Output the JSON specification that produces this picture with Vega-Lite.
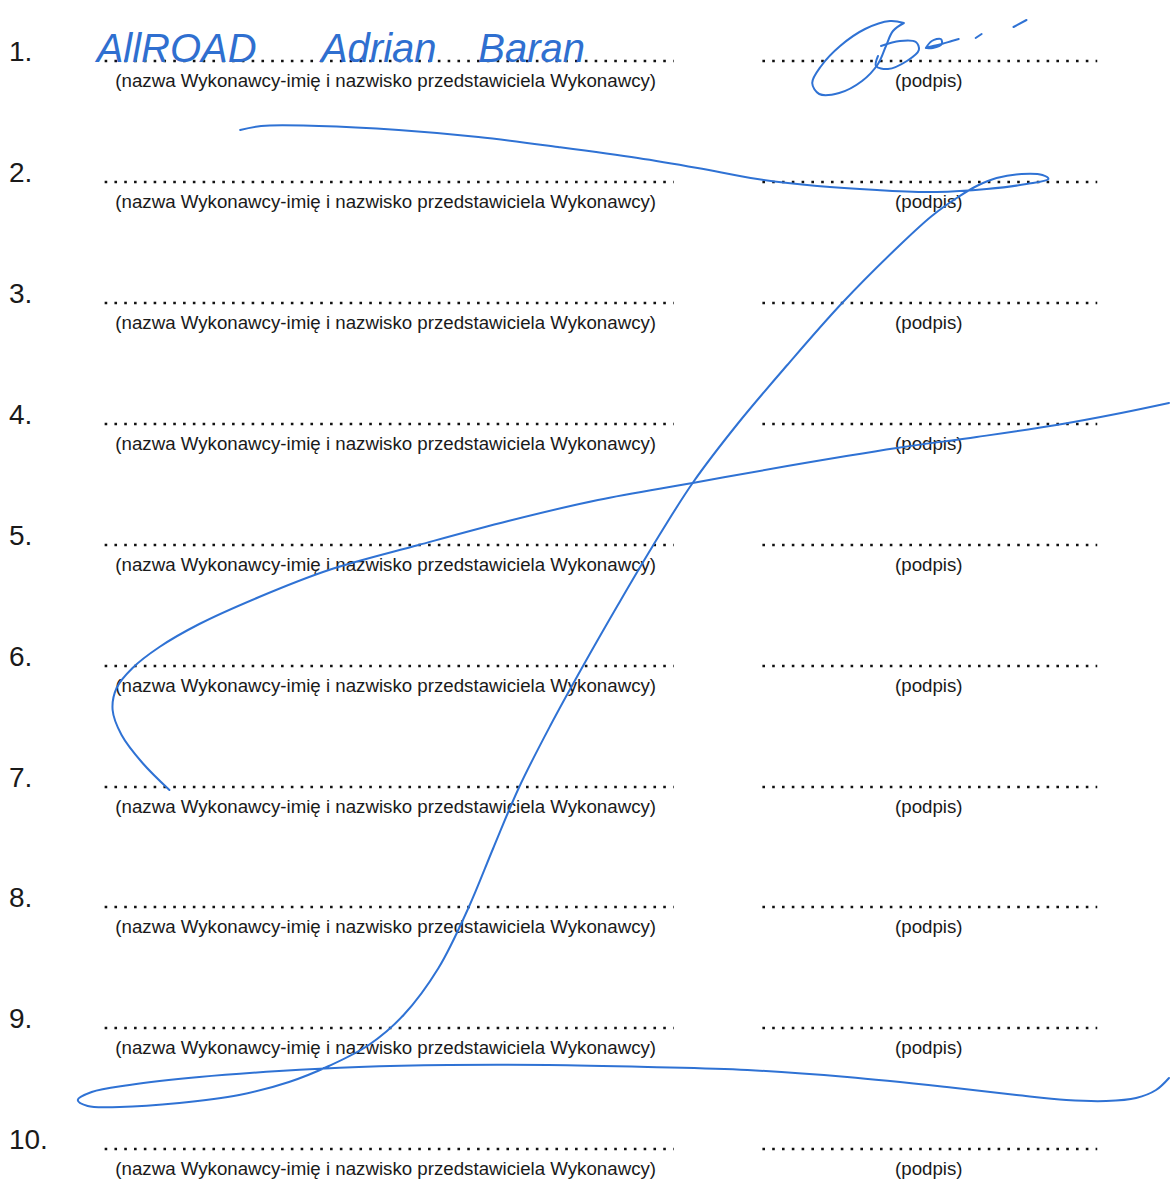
{
  "$schema": "https://vega.github.io/schema/vega-lite/v6.json",
  "autosize": {"type": "fit", "contains": "padding"},
  "width": 1173,
  "height": 1180,
  "padding": 0,
  "background": "white",
  "config": {"view": {"stroke": null}, "font": "Liberation Sans"},
  "datasets": {
    "rows": [
      {"label": "1.", "y": 53},
      {"label": "2.", "y": 174},
      {"label": "3.", "y": 295},
      {"label": "4.", "y": 416},
      {"label": "5.", "y": 537},
      {"label": "6.", "y": 658},
      {"label": "7.", "y": 779},
      {"label": "8.", "y": 899},
      {"label": "9.", "y": 1020},
      {"label": "10.", "y": 1141}
    ],
    "ink": [
      {"s": "B", "o": 1, "x": 241, "y": 130}, {"s": "B", "o": 2, "x": 262, "y": 126}, {"s": "B", "o": 3, "x": 320, "y": 126}, {"s": "B", "o": 4, "x": 400, "y": 130}, {"s": "B", "o": 5, "x": 480, "y": 137}, {"s": "B", "o": 6, "x": 560, "y": 147}, {"s": "B", "o": 7, "x": 640, "y": 158}, {"s": "B", "o": 8, "x": 700, "y": 168}, {"s": "B", "o": 9, "x": 760, "y": 179}, {"s": "B", "o": 10, "x": 820, "y": 186}, {"s": "B", "o": 11, "x": 880, "y": 190}, {"s": "B", "o": 12, "x": 940, "y": 192}, {"s": "B", "o": 13, "x": 990, "y": 189}, {"s": "B", "o": 14, "x": 1030, "y": 184}, {"s": "B", "o": 15, "x": 1052, "y": 179}, {"s": "B", "o": 16, "x": 1046, "y": 175}, {"s": "B", "o": 17, "x": 1025, "y": 174}, {"s": "B", "o": 18, "x": 1000, "y": 178}, {"s": "B", "o": 19, "x": 980, "y": 186}, {"s": "B", "o": 20, "x": 960, "y": 198}, {"s": "B", "o": 21, "x": 935, "y": 216}, {"s": "B", "o": 22, "x": 903, "y": 245}, {"s": "B", "o": 23, "x": 845, "y": 303}, {"s": "B", "o": 24, "x": 790, "y": 365}, {"s": "B", "o": 25, "x": 740, "y": 424}, {"s": "B", "o": 26, "x": 695, "y": 483}, {"s": "B", "o": 27, "x": 655, "y": 546}, {"s": "B", "o": 28, "x": 620, "y": 605}, {"s": "B", "o": 29, "x": 585, "y": 666}, {"s": "B", "o": 30, "x": 552, "y": 726}, {"s": "B", "o": 31, "x": 521, "y": 787}, {"s": "B", "o": 32, "x": 495, "y": 848}, {"s": "B", "o": 33, "x": 470, "y": 908}, {"s": "B", "o": 34, "x": 440, "y": 968}, {"s": "B", "o": 35, "x": 405, "y": 1015}, {"s": "B", "o": 36, "x": 370, "y": 1045}, {"s": "B", "o": 37, "x": 330, "y": 1066}, {"s": "B", "o": 38, "x": 290, "y": 1082}, {"s": "B", "o": 39, "x": 240, "y": 1095}, {"s": "B", "o": 40, "x": 180, "y": 1103}, {"s": "B", "o": 41, "x": 120, "y": 1107}, {"s": "B", "o": 42, "x": 88, "y": 1106}, {"s": "B", "o": 43, "x": 78, "y": 1100}, {"s": "B", "o": 44, "x": 92, "y": 1092}, {"s": "B", "o": 45, "x": 130, "y": 1085}, {"s": "B", "o": 46, "x": 200, "y": 1077}, {"s": "B", "o": 47, "x": 280, "y": 1071}, {"s": "B", "o": 48, "x": 360, "y": 1067}, {"s": "B", "o": 49, "x": 450, "y": 1065}, {"s": "B", "o": 50, "x": 550, "y": 1065}, {"s": "B", "o": 51, "x": 650, "y": 1067}, {"s": "B", "o": 52, "x": 750, "y": 1070}, {"s": "B", "o": 53, "x": 850, "y": 1077}, {"s": "B", "o": 54, "x": 950, "y": 1087}, {"s": "B", "o": 55, "x": 1020, "y": 1095}, {"s": "B", "o": 56, "x": 1070, "y": 1100}, {"s": "B", "o": 57, "x": 1110, "y": 1101}, {"s": "B", "o": 58, "x": 1140, "y": 1098}, {"s": "B", "o": 59, "x": 1160, "y": 1090}, {"s": "B", "o": 60, "x": 1173, "y": 1078},
      {"s": "C", "o": 1, "x": 170, "y": 790}, {"s": "C", "o": 2, "x": 143, "y": 763}, {"s": "C", "o": 3, "x": 122, "y": 735}, {"s": "C", "o": 4, "x": 113, "y": 710}, {"s": "C", "o": 5, "x": 117, "y": 688}, {"s": "C", "o": 6, "x": 133, "y": 668}, {"s": "C", "o": 7, "x": 160, "y": 647}, {"s": "C", "o": 8, "x": 200, "y": 624}, {"s": "C", "o": 9, "x": 260, "y": 597}, {"s": "C", "o": 10, "x": 330, "y": 570}, {"s": "C", "o": 11, "x": 420, "y": 545}, {"s": "C", "o": 12, "x": 510, "y": 521}, {"s": "C", "o": 13, "x": 600, "y": 500}, {"s": "C", "o": 14, "x": 695, "y": 483}, {"s": "C", "o": 15, "x": 790, "y": 466}, {"s": "C", "o": 16, "x": 900, "y": 448}, {"s": "C", "o": 17, "x": 980, "y": 437}, {"s": "C", "o": 18, "x": 1060, "y": 425}, {"s": "C", "o": 19, "x": 1125, "y": 413}, {"s": "C", "o": 20, "x": 1173, "y": 403},
      {"s": "S1", "o": 1, "x": 907, "y": 23}, {"s": "S1", "o": 2, "x": 893, "y": 21}, {"s": "S1", "o": 3, "x": 868, "y": 29}, {"s": "S1", "o": 4, "x": 843, "y": 46}, {"s": "S1", "o": 5, "x": 824, "y": 66}, {"s": "S1", "o": 6, "x": 815, "y": 83}, {"s": "S1", "o": 7, "x": 822, "y": 94}, {"s": "S1", "o": 8, "x": 842, "y": 93}, {"s": "S1", "o": 9, "x": 865, "y": 81}, {"s": "S1", "o": 10, "x": 881, "y": 64}, {"s": "S1", "o": 11, "x": 889, "y": 46}, {"s": "S1", "o": 12, "x": 896, "y": 31}, {"s": "S1", "o": 13, "x": 907, "y": 23},
      {"s": "S2", "o": 1, "x": 884, "y": 46}, {"s": "S2", "o": 2, "x": 903, "y": 41}, {"s": "S2", "o": 3, "x": 919, "y": 42}, {"s": "S2", "o": 4, "x": 922, "y": 50}, {"s": "S2", "o": 5, "x": 910, "y": 61}, {"s": "S2", "o": 6, "x": 891, "y": 69}, {"s": "S2", "o": 7, "x": 879, "y": 66}, {"s": "S2", "o": 8, "x": 881, "y": 56},
      {"s": "S3", "o": 1, "x": 929, "y": 48}, {"s": "S3", "o": 2, "x": 935, "y": 41}, {"s": "S3", "o": 3, "x": 944, "y": 39}, {"s": "S3", "o": 4, "x": 945, "y": 44}, {"s": "S3", "o": 5, "x": 936, "y": 48}, {"s": "S3", "o": 6, "x": 929, "y": 48}, {"s": "S3", "o": 7, "x": 945, "y": 44}, {"s": "S3", "o": 8, "x": 955, "y": 41}, {"s": "S3", "o": 9, "x": 962, "y": 39},
      {"s": "S4", "o": 1, "x": 979, "y": 38}, {"s": "S4", "o": 2, "x": 985, "y": 34},
      {"s": "S5", "o": 1, "x": 1017, "y": 27}, {"s": "S5", "o": 2, "x": 1030, "y": 20}
    ],
    "hand": [
      {"t": "AllROAD", "x": 97, "y": 70},
      {"t": "Adrian", "x": 322, "y": 70},
      {"t": "Baran", "x": 480, "y": 70}
    ]
  },
  "encoding": {
    "x": {"type": "quantitative", "scale": {"domain": [0, 1173], "nice": false, "zero": false}, "axis": null},
    "y": {"type": "quantitative", "scale": {"domain": [0, 1180], "nice": false, "zero": false, "reverse": true}, "axis": null}
  },
  "layer": [
    {
      "data": {"name": "rows"},
      "mark": {"type": "text", "align": "left", "baseline": "middle", "fontSize": 28, "color": "#1a1a1a"},
      "encoding": {"x": {"datum": 9}, "y": {"field": "y"}, "text": {"field": "label"}}
    },
    {
      "data": {"name": "rows"},
      "mark": {"type": "rule", "yOffset": 8, "strokeWidth": 2.6, "strokeDash": [2.6, 7.2], "color": "#111111"},
      "encoding": {"x": {"datum": 105}, "x2": {"datum": 676}, "y": {"field": "y"}}
    },
    {
      "data": {"name": "rows"},
      "mark": {"type": "rule", "yOffset": 8, "strokeWidth": 2.6, "strokeDash": [2.6, 7.2], "color": "#111111"},
      "encoding": {"x": {"datum": 765}, "x2": {"datum": 1101}, "y": {"field": "y"}}
    },
    {
      "data": {"name": "rows"},
      "transform": [{"calculate": "'(nazwa Wykonawcy-imię i nazwisko przedstawiciela Wykonawcy)'", "as": "t"}],
      "mark": {"type": "text", "align": "center", "baseline": "middle", "fontSize": 18.7, "dy": 28, "color": "#1a1a1a"},
      "encoding": {"x": {"datum": 387}, "y": {"field": "y"}, "text": {"field": "t"}}
    },
    {
      "data": {"name": "rows"},
      "transform": [{"calculate": "'(podpis)'", "as": "t"}],
      "mark": {"type": "text", "align": "center", "baseline": "middle", "fontSize": 18.7, "dy": 28, "color": "#1a1a1a"},
      "encoding": {"x": {"datum": 932}, "y": {"field": "y"}, "text": {"field": "t"}}
    },
    {
      "data": {"name": "hand"},
      "mark": {"type": "text", "align": "left", "baseline": "bottom", "fontSize": 40, "fontStyle": "italic", "font": "Liberation Sans", "color": "#2f6fd0"},
      "encoding": {"x": {"field": "x"}, "y": {"field": "y"}, "text": {"field": "t"}}
    },
    {
      "data": {"name": "ink"},
      "mark": {"type": "line", "interpolate": "catmull-rom", "strokeWidth": 2, "color": "#2f72d4", "strokeCap": "round"},
      "encoding": {"x": {"field": "x"}, "y": {"field": "y"}, "detail": {"field": "s"}, "order": {"field": "o"}}
    }
  ]
}
